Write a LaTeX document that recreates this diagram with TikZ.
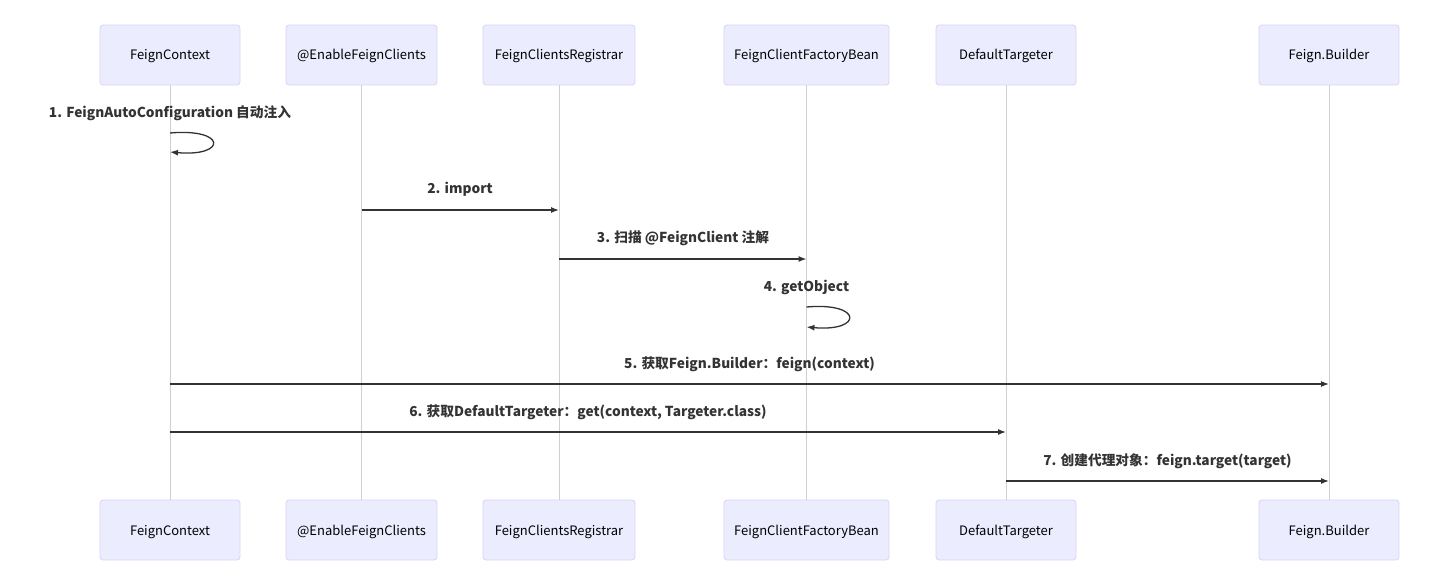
\documentclass[tikz,border=0pt]{standalone}
\usepackage{fontspec}
\setmainfont{Noto Sans CJK SC}
\usetikzlibrary{arrows.meta}

\definecolor{actorfill}{HTML}{ECECFF}
\definecolor{actorline}{HTML}{D9D3F6}
\definecolor{lifeline}{HTML}{CFCFCF}
\definecolor{msgline}{HTML}{333333}

\tikzset{
  actor/.style={draw=actorline,fill=actorfill,rounded corners=3pt,line width=0.8pt,
    minimum height=60pt,inner sep=0pt,text height=11pt,text depth=1pt,
    font=\fontsize{13}{15}\selectfont},
  life/.style={draw=lifeline,line width=1pt},
  msg/.style={draw=msgline,line width=1.3pt,-{Latex[length=8pt,width=6pt]}},
  msglabel/.style={font=\fontsize{13.7}{16}\selectfont\bfseries,text=msgline,inner sep=0pt},
}

\begin{document}
\begin{tikzpicture}[x=1pt,y=-1pt]
    \useasboundingbox (0,0) rectangle (1443,585);
    % actors, top and bottom
    \foreach \nm/\lbl/\cx/\w in {ctx/FeignContext/170/140,
        enable/@EnableFeignClients/361.5/151,
        reg/FeignClientsRegistrar/559/152,
        fac/FeignClientFactoryBean/806.5/165,
        tgt/DefaultTargeter/1006/140,
        bld/Feign.Builder/1329/140}{
        \node[actor,minimum width=\w pt] (\nm top) at (\cx,55) {\lbl};
        \node[actor,minimum width=\w pt] (\nm bot) at (\cx,530) {\lbl};
        \draw[life] (\nm top.south) -- (\nm bot.north);
    }
    % 1. self call
    \node[msglabel] (m1) at (170,113.5) {1. FeignAutoConfiguration 自动注入};
    \coordinate (s1a) at (170,133);
    \coordinate (s1b) at (170,152);
    \draw[msg] (s1a) .. controls (227,128) and (227,157) .. (s1b);
    % 2. import
    \coordinate (a2) at (361.5,210);
    \coordinate (b2) at (559,210);
    \draw[msg] (a2) -- (b2);
    \node[msglabel] (m2) at (460,189.5) {2. import};
    % 3. scan
    \coordinate (a3) at (559,259);
    \coordinate (b3) at (806.5,259);
    \draw[msg] (a3) -- (b3);
    \node[msglabel] (m3) at (683,238.5) {3. 扫描 @FeignClient 注解};
    % 4. self call
    \node[msglabel] (m4) at (806.5,287.5) {4. getObject};
    \coordinate (s4a) at (806.5,307);
    \coordinate (s4b) at (806.5,327);
    \draw[msg] (s4a) .. controls (863,302) and (863,332) .. (s4b);
    % 5.
    \coordinate (a5) at (170,384);
    \coordinate (b5) at (1329,384);
    \draw[msg] (a5) -- (b5);
    \node[msglabel] (m5) at (749.5,364.5) {5. 获取Feign.Builder：feign(context)};
    % 6.
    \coordinate (a6) at (170,432);
    \coordinate (b6) at (1006,432);
    \draw[msg] (a6) -- (b6);
    \node[msglabel] (m6) at (588,412.5) {6. 获取DefaultTargeter：get(context, Targeter.class)};
    % 7.
    \coordinate (a7) at (1006,481);
    \coordinate (b7) at (1329,481);
    \draw[msg] (a7) -- (b7);
    \node[msglabel] (m7) at (1167.5,461.5) {7. 创建代理对象：feign.target(target)};
\end{tikzpicture}
\end{document}
